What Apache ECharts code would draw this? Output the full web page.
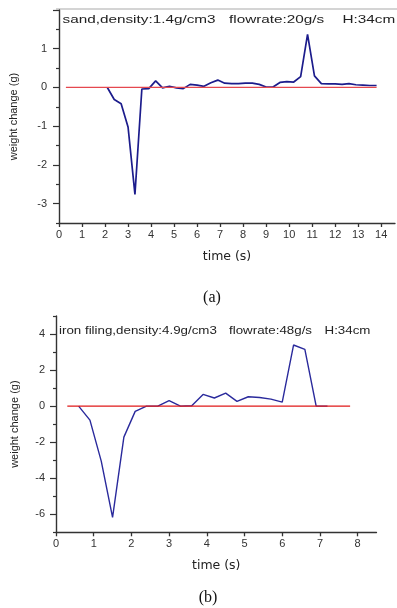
<!DOCTYPE html>
<html>
<head>
<meta charset="utf-8">
<script src="https://cdn.jsdelivr.net/npm/echarts@6/dist/echarts.min.js"></script>
<style>
  html, body { margin: 0; padding: 0; background: #fff; }
  #chart { width: 397px; height: 608px; }
</style>
</head>
<body>
<div id="chart"></div>
<script>
// (a) sand
const timeA = [2.1, 2.4, 2.7, 3.0, 3.3, 3.6, 3.9, 4.2, 4.5, 4.8, 5.1, 5.4, 5.7, 6.0, 6.3, 6.6, 6.9, 7.2, 7.5, 7.8,
  8.1, 8.4, 8.7, 9.0, 9.3, 9.6, 9.9, 10.2, 10.5, 10.8, 11.1, 11.4, 11.7, 12.0, 12.3, 12.6, 12.9, 13.2, 13.5, 13.8];
const weightA = [0, -0.31, -0.42, -1.02, -2.76, -0.04, -0.03, 0.17, -0.01, 0.03, -0.01, -0.03, 0.08, 0.06, 0.03, 0.12, 0.19, 0.11, 0.10, 0.10,
  0.11, 0.11, 0.08, 0.01, 0.01, 0.13, 0.15, 0.14, 0.28, 1.37, 0.30, 0.10, 0.09, 0.09, 0.08, 0.10, 0.07, 0.06, 0.05, 0.05];
const baseTimeA = [0.3, 13.8];
const baseWeightA = [0, 0];

// (b) iron filing
const timeB = [0.6, 0.9, 1.2, 1.5, 1.8, 2.1, 2.4, 2.7, 3.0, 3.3, 3.6, 3.9, 4.2, 4.5, 4.8, 5.1, 5.4, 5.7, 6.0, 6.3, 6.6, 6.9, 7.2];
const weightB = [0, -0.78, -3.05, -6.17, -1.72, -0.29, 0, 0, 0.31, 0, 0.02, 0.65, 0.45, 0.72, 0.26, 0.52, 0.48, 0.39, 0.22, 3.39, 3.15, 0, 0];
const baseTimeB = [0.3, 7.8];
const baseWeightB = [0, 0];

// tick labels
const xTicksA = [0, 1, 2, 3, 4, 5, 6, 7, 8, 9, 10, 11, 12, 13, 14];
const yTicksA = [-3, -2, -1, 0, 1];
const yTickMarksA = [-3, -2, -1, 0, 1, 2];
const yMinorA = [-3.5, -2.5, -1.5, -0.5, 0.5, 1.5];
const xTicksB = [0, 1, 2, 3, 4, 5, 6, 7, 8];
const yTicksB = [-6, -4, -2, 0, 2, 4];
const yMinorB = [-7, -5, -3, -1, 1, 3, 5];

const titleA = ['sand,density:1.4g/cm3', 'flowrate:20g/s', 'H:34cm'];
const titleB = ['iron filing,density:4.9g/cm3', 'flowrate:48g/s', 'H:34cm'];

const pairs = (xs, ys) => xs.map((x, i) => [x, ys[i]]);

const FONT = '"Liberation Sans", Arial, sans-serif';
const AXIS_COLOR = '#333';

function xAxisOpt(gridIndex, max, ticks) {
  return {
    type: 'value', gridIndex, min: 0, max, interval: 1,
    name: 'time (s)', nameLocation: 'middle', nameGap: 27,
    nameTextStyle: { fontFamily: '"DejaVu Sans", sans-serif', fontSize: 12.5, color: '#222' },
    axisLine: { onZero: false, lineStyle: { color: AXIS_COLOR, width: 1.3 } },
    axisTick: { customValues: ticks, length: 4, lineStyle: { color: AXIS_COLOR, width: 1.3 } },
    axisLabel: { customValues: ticks, margin: 6, fontFamily: FONT, fontSize: 11, color: '#333' },
    splitLine: { show: false }
  };
}

function yAxisOpt(gridIndex, min, max, labels, marks, nameGap, labelMargin) {
  return {
    type: 'value', gridIndex, min, max, interval: 0.5,
    name: 'weight change (g)', nameLocation: 'middle', nameGap,
    nameTextStyle: { fontFamily: FONT, fontSize: 11, color: '#222' },
    axisLine: { onZero: false, lineStyle: { color: AXIS_COLOR, width: 1.4 } },
    axisTick: { customValues: marks, length: 6, lineStyle: { color: AXIS_COLOR, width: 1.2 } },
    axisLabel: { customValues: labels, margin: labelMargin, fontFamily: FONT, fontSize: 11, color: '#333' },
    splitLine: { show: false }
  };
}

function minorAxisOpt(gridIndex, min, max, marks) {
  return {
    type: 'value', gridIndex, min, max, interval: 0.5, position: 'left',
    axisLine: { show: false, onZero: false },
    axisTick: { customValues: marks, length: 3, lineStyle: { color: AXIS_COLOR, width: 1.2 } },
    axisLabel: { show: false },
    splitLine: { show: false }
  };
}

function titleGraphic(parts, xs, y, size, sx) {
  return parts.map((t, i) => ({
    type: 'text', x: xs[i], y, scaleX: sx, z: 10,
    style: { text: t, font: size + 'px ' + FONT, fill: '#222', verticalAlign: 'middle' }
  }));
}

const chart = echarts.init(document.getElementById('chart'));

const option = {
  animation: false,
  backgroundColor: '#fff',
  grid: [
    { left: 56, top: 10, width: 339, height: 213 },
    { left: 56, top: 316, width: 320.5, height: 216.3 }
  ],
  xAxis: [
    xAxisOpt(0, 14.6, xTicksA),
    xAxisOpt(1, 8.5, xTicksB)
  ],
  yAxis: [
    yAxisOpt(0, -3.5, 2, yTicksA, yTickMarksA, 40, 12),
    yAxisOpt(1, -7, 5, yTicksB, yTicksB, 36, 11),
    minorAxisOpt(0, -3.5, 2, yMinorA),
    minorAxisOpt(1, -7, 5, yMinorB)
  ],
  graphic: [
    { type: 'line', shape: { x1: 56, y1: 9, x2: 397, y2: 9 }, style: { stroke: '#d4d4d4', lineWidth: 2 } },
    ...titleGraphic(titleA, [62.5, 229, 342.5], 19.5, 11.5, 1.33),
    ...titleGraphic(titleB, [59, 229, 324.5], 331, 10.5, 1.27),
    { type: 'text', x: 212, y: 298, style: { text: '(a)', font: '16px "Liberation Serif", serif', fill: '#111', align: 'center', verticalAlign: 'middle' } },
    { type: 'text', x: 208, y: 598, style: { text: '(b)', font: '16px "Liberation Serif", serif', fill: '#111', align: 'center', verticalAlign: 'middle' } }
  ],
  series: [
    {
      type: 'line', xAxisIndex: 0, yAxisIndex: 0, data: pairs(timeA, weightA),
      symbol: 'none', lineStyle: { color: '#1c1c8c', width: 1.7 }
    },
    {
      type: 'line', xAxisIndex: 0, yAxisIndex: 0, data: pairs(baseTimeA, baseWeightA),
      symbol: 'none', lineStyle: { color: '#e5484f', width: 1.2 }
    },
    {
      type: 'line', xAxisIndex: 1, yAxisIndex: 1, data: pairs(timeB, weightB),
      symbol: 'none', lineStyle: { color: '#2a2a9c', width: 1.4 }
    },
    {
      type: 'line', xAxisIndex: 1, yAxisIndex: 1, data: pairs(baseTimeB, baseWeightB),
      symbol: 'none', lineStyle: { color: '#e01818', width: 1.2 }
    }
  ]
};

chart.setOption(option);
window.addEventListener('resize', () => chart.resize());
</script>
</body>
</html>
